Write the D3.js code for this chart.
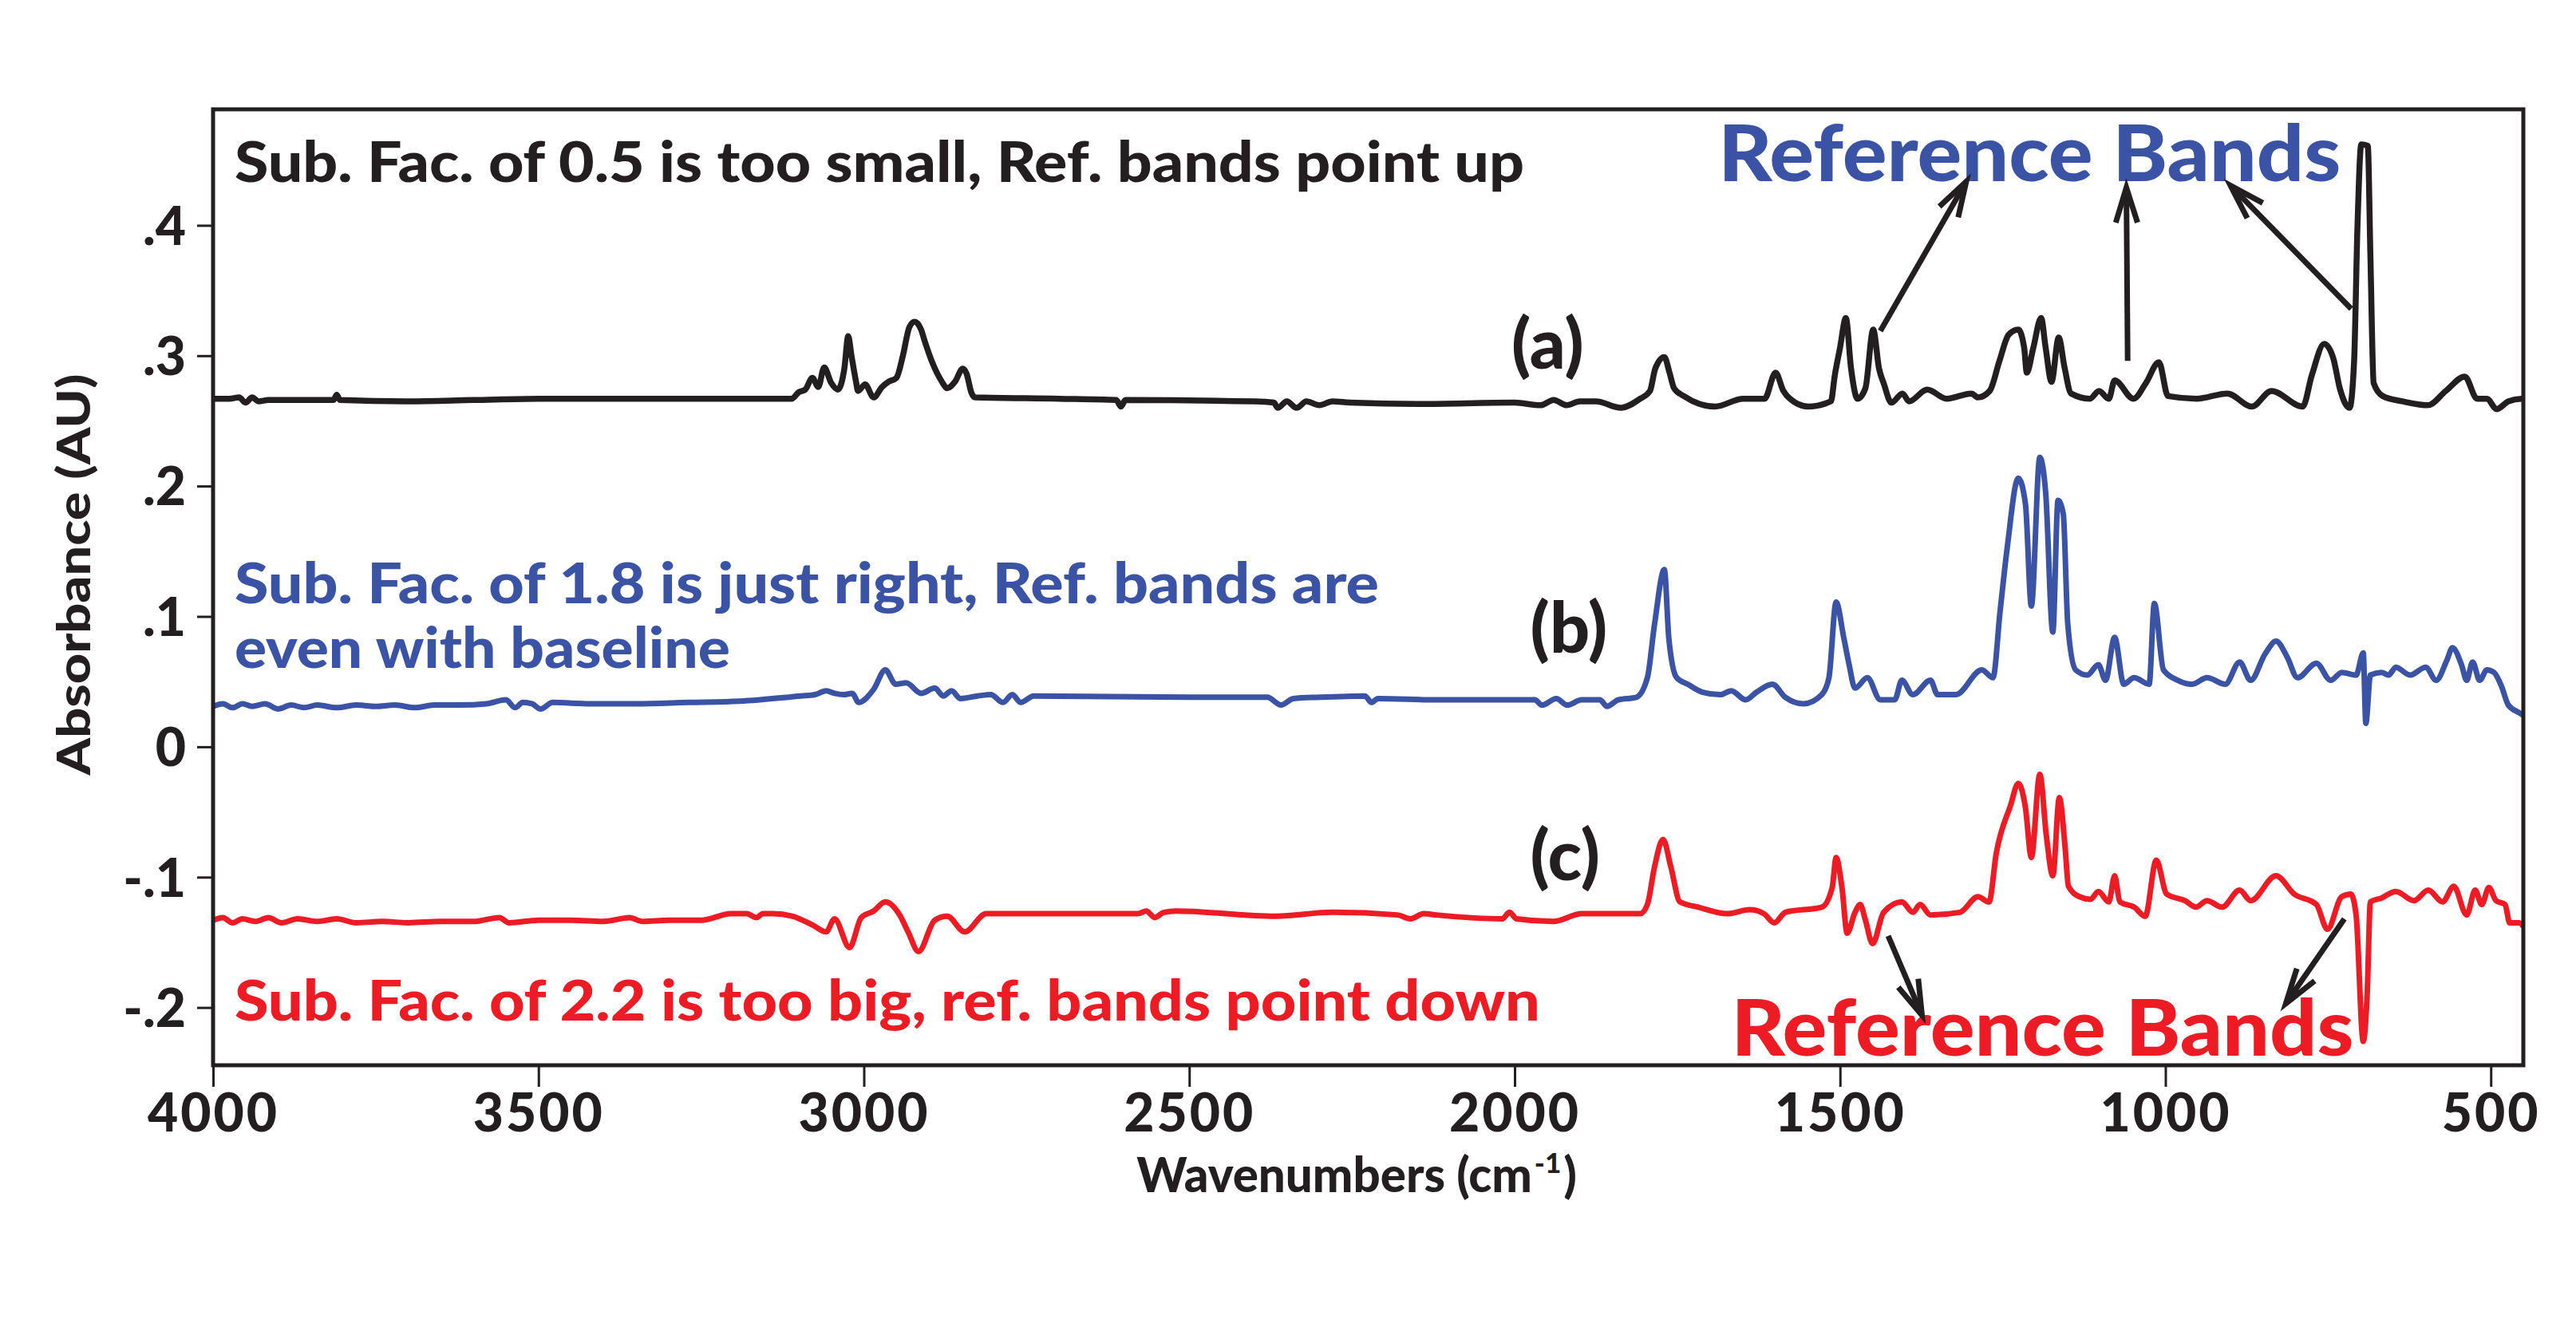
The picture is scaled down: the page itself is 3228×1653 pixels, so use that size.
<!DOCTYPE html>
<html lang="en">
<head>
<meta charset="UTF-8">
<title>Subtraction factor spectra</title>
<script src="https://cdn.jsdelivr.net/npm/d3@7"></script>
<style>
  body { margin: 0; background: #fff; }
</style>
</head>
<body>
<svg></svg>
<script>
  const width = 3228, height = 1653

  const xTicks = [4000, 3500, 3000, 2500, 2000, 1500, 1000, 500]
  const yTicks = [-0.2, -0.1, 0, 0.1, 0.2, 0.3, 0.4]
  const yTickLabels = ['-.2', '-.1', '0', '.1', '.2', '.3', '.4']

  // [wavenumber, absorbance]
  const spectrumA = [[4000,0.267],[3975,0.267],[3960,0.268],[3950,0.264],[3940,0.268],[3930,0.265],[3915,0.266],[3900,0.266],[3850,0.266],[3815,0.266],[3810,0.270],[3805,0.266],[3700,0.265],[3600,0.266],[3500,0.267],[3300,0.267],[3111,0.267],[3100,0.272],[3090,0.274],[3079,0.283],[3070,0.276],[3061,0.291],[3050,0.279],[3040,0.274],[3030,0.290],[3024,0.315],[3019,0.300],[3012,0.280],[3009,0.273],[2998,0.278],[2985,0.268],[2972,0.276],[2962,0.280],[2950,0.283],[2940,0.300],[2930,0.322],[2922,0.326],[2912,0.320],[2907,0.312],[2895,0.295],[2880,0.280],[2872,0.275],[2860,0.280],[2848,0.290],[2842,0.286],[2835,0.272],[2829,0.268],[2700,0.267],[2612,0.266],[2605,0.261],[2598,0.266],[2400,0.265],[2370,0.264],[2364,0.260],[2350,0.265],[2335,0.260],[2320,0.265],[2300,0.262],[2280,0.265],[2253,0.264],[2150,0.263],[2000,0.264],[1960,0.262],[1940,0.266],[1920,0.262],[1900,0.265],[1875,0.265],[1837,0.260],[1807,0.267],[1792,0.273],[1784,0.290],[1770,0.299],[1762,0.287],[1755,0.275],[1740,0.269],[1692,0.261],[1649,0.267],[1616,0.267],[1599,0.287],[1587,0.273],[1577,0.267],[1549,0.261],[1514,0.265],[1508,0.285],[1500,0.306],[1491,0.329],[1483,0.290],[1473,0.267],[1461,0.275],[1449,0.320],[1440,0.290],[1433,0.279],[1421,0.264],[1404,0.271],[1394,0.265],[1366,0.274],[1336,0.267],[1298,0.271],[1288,0.268],[1270,0.273],[1255,0.296],[1241,0.316],[1226,0.320],[1217,0.306],[1213,0.287],[1203,0.306],[1191,0.329],[1184,0.306],[1175,0.280],[1164,0.314],[1155,0.291],[1145,0.271],[1116,0.267],[1102,0.273],[1087,0.267],[1078,0.281],[1049,0.267],[1030,0.279],[1010,0.295],[996,0.269],[952,0.267],[905,0.271],[867,0.261],[837,0.273],[789,0.261],[775,0.285],[756,0.309],[742,0.298],[732,0.275],[717,0.260],[710,0.296],[705,0.397],[699,0.462],[689,0.461],[685,0.377],[680,0.279],[666,0.269],[636,0.265],[597,0.262],[569,0.273],[540,0.284],[521,0.267],[506,0.267],[491,0.259],[473,0.265],[453,0.267],[450,0.267]]

  const spectrumB = [[4000,0.031],[3985,0.033],[3970,0.030],[3955,0.033],[3940,0.031],[3920,0.033],[3900,0.029],[3880,0.032],[3860,0.030],[3840,0.032],[3810,0.030],[3780,0.032],[3750,0.031],[3720,0.032],[3690,0.030],[3660,0.032],[3620,0.032],[3580,0.033],[3550,0.036],[3536,0.030],[3524,0.034],[3510,0.033],[3497,0.029],[3478,0.034],[3420,0.033],[3350,0.033],[3270,0.034],[3191,0.035],[3097,0.039],[3075,0.040],[3058,0.043],[3045,0.041],[3031,0.040],[3018,0.041],[3008,0.034],[2985,0.044],[2967,0.059],[2951,0.048],[2935,0.049],[2912,0.041],[2891,0.045],[2878,0.039],[2865,0.043],[2852,0.037],[2825,0.039],[2805,0.040],[2786,0.034],[2772,0.040],[2759,0.034],[2739,0.039],[2500,0.038],[2380,0.038],[2359,0.032],[2340,0.037],[2300,0.038],[2230,0.039],[2220,0.034],[2210,0.037],[2120,0.036],[1969,0.036],[1958,0.032],[1936,0.037],[1919,0.032],[1897,0.036],[1869,0.036],[1858,0.031],[1841,0.036],[1813,0.038],[1796,0.053],[1785,0.094],[1770,0.136],[1763,0.083],[1751,0.053],[1734,0.048],[1712,0.042],[1684,0.040],[1667,0.043],[1645,0.036],[1628,0.042],[1604,0.048],[1584,0.038],[1556,0.033],[1528,0.040],[1517,0.053],[1506,0.111],[1494,0.083],[1486,0.063],[1477,0.045],[1458,0.053],[1438,0.036],[1416,0.036],[1405,0.051],[1388,0.040],[1361,0.051],[1350,0.040],[1322,0.040],[1282,0.059],[1265,0.053],[1254,0.104],[1243,0.153],[1226,0.206],[1215,0.186],[1206,0.108],[1193,0.222],[1184,0.195],[1173,0.088],[1165,0.189],[1157,0.179],[1150,0.094],[1138,0.059],[1120,0.055],[1103,0.063],[1092,0.051],[1078,0.084],[1064,0.048],[1048,0.053],[1025,0.048],[1017,0.110],[1003,0.059],[981,0.051],[959,0.048],[936,0.053],[908,0.048],[886,0.065],[869,0.051],[847,0.071],[830,0.081],[813,0.069],[797,0.053],[768,0.064],[746,0.051],[729,0.057],[707,0.055],[696,0.072],[692,0.018],[685,0.055],[668,0.057],[657,0.055],[646,0.061],[624,0.055],[600,0.061],[584,0.051],[567,0.067],[559,0.076],[545,0.063],[537,0.051],[528,0.065],[517,0.051],[506,0.059],[495,0.057],[484,0.047],[473,0.032],[456,0.026],[450,0.024]]

  const spectrumC = [[4000,-0.133],[3985,-0.131],[3970,-0.135],[3955,-0.132],[3935,-0.134],[3915,-0.131],[3895,-0.135],[3870,-0.132],[3840,-0.134],[3810,-0.132],[3780,-0.135],[3740,-0.134],[3700,-0.135],[3650,-0.134],[3600,-0.134],[3560,-0.131],[3545,-0.135],[3500,-0.133],[3450,-0.133],[3400,-0.134],[3360,-0.131],[3340,-0.134],[3300,-0.133],[3250,-0.133],[3204,-0.128],[3180,-0.128],[3165,-0.131],[3155,-0.128],[3140,-0.128],[3109,-0.130],[3078,-0.137],[3058,-0.142],[3045,-0.132],[3022,-0.154],[3004,-0.131],[2985,-0.126],[2967,-0.119],[2945,-0.129],[2932,-0.142],[2916,-0.157],[2891,-0.133],[2872,-0.130],[2845,-0.142],[2812,-0.128],[2579,-0.128],[2566,-0.126],[2553,-0.131],[2539,-0.127],[2520,-0.126],[2367,-0.130],[2280,-0.127],[2180,-0.129],[2160,-0.132],[2140,-0.128],[2120,-0.129],[2019,-0.132],[2008,-0.127],[1997,-0.132],[1941,-0.134],[1897,-0.128],[1807,-0.128],[1796,-0.121],[1785,-0.092],[1772,-0.071],[1760,-0.092],[1746,-0.119],[1718,-0.123],[1673,-0.128],[1639,-0.125],[1617,-0.128],[1601,-0.135],[1584,-0.127],[1528,-0.123],[1512,-0.108],[1506,-0.085],[1497,-0.108],[1489,-0.143],[1477,-0.127],[1469,-0.121],[1461,-0.133],[1450,-0.151],[1433,-0.127],[1405,-0.119],[1388,-0.127],[1377,-0.121],[1361,-0.129],[1316,-0.127],[1288,-0.115],[1271,-0.119],[1260,-0.082],[1238,-0.045],[1226,-0.028],[1215,-0.047],[1206,-0.085],[1193,-0.021],[1183,-0.068],[1173,-0.099],[1163,-0.039],[1154,-0.078],[1149,-0.107],[1132,-0.115],[1115,-0.117],[1103,-0.111],[1087,-0.119],[1078,-0.099],[1070,-0.119],[1048,-0.123],[1031,-0.130],[1014,-0.087],[998,-0.113],[970,-0.118],[953,-0.123],[936,-0.118],[913,-0.123],[886,-0.110],[869,-0.118],[830,-0.099],[802,-0.113],[768,-0.121],[751,-0.140],[729,-0.115],[715,-0.113],[707,-0.129],[696,-0.226],[690,-0.190],[685,-0.119],[668,-0.116],[646,-0.111],[618,-0.118],[596,-0.110],[574,-0.119],[557,-0.107],[537,-0.129],[524,-0.110],[514,-0.121],[503,-0.108],[492,-0.118],[478,-0.121],[471,-0.135],[456,-0.135],[450,-0.138]]

  const black = '#231f20', blue = '#3a53a4', red = '#ed1c24'
  const font = 'Lato, "Open Sans", sans-serif'

  const svg = d3.select('svg')
      .attr('width', width)
      .attr('height', height)
      .attr('viewBox', [0, 0, width, height])
      .style('background', '#fff')
      .style('display', 'block')

  const x = d3.scaleLinear()
      .domain([4000, 450])
      .range([267, 3162])

  const y = d3.scaleLinear()
      .domain([-0.2443, 0.489])
      .range([1335, 137])

  svg.append('clipPath').attr('id', 'plot')
    .append('rect')
      .attr('x', x.range()[0]).attr('y', y.range()[1])
      .attr('width', x.range()[1] - x.range()[0])
      .attr('height', y.range()[0] - y.range()[1])

  const line = d3.line()
      .x(d => x(d[0]))
      .y(d => y(d[1]))
      .curve(d3.curveMonotoneX)

  // spectra
  const spectra = [
    {data: spectrumA, color: black, w: 7.5},
    {data: spectrumB, color: blue, w: 7},
    {data: spectrumC, color: red, w: 7}
  ]
  svg.append('g').attr('clip-path', 'url(#plot)')
    .selectAll('path').data(spectra).join('path')
      .attr('fill', 'none')
      .attr('stroke', d => d.color)
      .attr('stroke-width', d => d.w)
      .attr('stroke-linejoin', 'round')
      .attr('d', d => line(d.data))

  // frame
  svg.append('rect')
      .attr('x', x.range()[0]).attr('y', y.range()[1])
      .attr('width', x.range()[1] - x.range()[0])
      .attr('height', y.range()[0] - y.range()[1])
      .attr('fill', 'none')
      .attr('stroke', black)
      .attr('stroke-width', 5)

  //X轴
  const gx = svg.append('g')
      .attr('transform', `translate(0,${y.range()[0]})`)
      .call(d3.axisBottom(x).tickValues(xTicks).tickSize(27).tickSizeOuter(0).tickFormat(d3.format('d')))
  gx.select('.domain').remove()
  gx.selectAll('line').attr('stroke', black).attr('stroke-width', 3)
  gx.selectAll('text')
      .attr('y', 83).attr('dy', 0)
      .attr('fill', black)
      .attr('letter-spacing', 3)
      .style('font', `900 66px ${font}`)

  //Y轴
  const gy = svg.append('g')
      .attr('transform', `translate(${x.range()[0]},0)`)
      .call(d3.axisLeft(y).tickValues(yTicks).tickSize(20).tickSizeOuter(0)
        .tickFormat((d, i) => yTickLabels[i]))
  gy.select('.domain').remove()
  gy.selectAll('line').attr('stroke', black).attr('stroke-width', 3)
  gy.selectAll('text')
      .attr('x', -34).attr('dy', '0.36em')
      .attr('fill', black)
      .style('font', `900 66px ${font}`)

  // axis titles: superscript kept inside the same text
  svg.append('text')
      .attr('x', 1700).attr('y', 1494)
      .attr('text-anchor', 'middle')
      .attr('fill', black)
      .style('font', `900 60px ${font}`)
      .html('Wavenumbers (cm<tspan dx="3" dy="-24" style="font-size:35px">-1</tspan><tspan dx="3" dy="24">)</tspan>')

  svg.append('text')
      .attr('transform', 'translate(113,720) rotate(-90)')
      .attr('text-anchor', 'middle')
      .attr('fill', black)
      .attr('textLength', 503)
      .attr('lengthAdjust', 'spacingAndGlyphs')
      .style('font', `900 58px ${font}`)
      .text('Absorbance (AU)')

  // annotations, anchored in data units
  const notes = [
    {t: 'Sub. Fac. of 0.5 is too small, Ref. bands point up', w: 3967, v: 0.4336, c: black, s: 70, len: 1616},
    {t: 'Sub. Fac. of 1.8 is just right, Ref. bands are', w: 3967, v: 0.110, c: blue, s: 70, len: 1434},
    {t: 'even with baseline', w: 3967, v: 0.0606, c: blue, s: 70, len: 621},
    {t: 'Sub. Fac. of 2.2 is too big, ref. bands point down', w: 3967, v: -0.210, c: red, s: 70, len: 1636},
    {t: 'Reference Bands', w: 1687, v: 0.434, c: blue, s: 98, len: 780},
    {t: 'Reference Bands', w: 1667, v: -0.237, c: red, s: 98, len: 780},
    {t: '(a)', w: 2005, v: 0.290, c: black, s: 88},
    {t: '(b)', w: 1976, v: 0.072, c: black, s: 88},
    {t: '(c)', w: 1976, v: -0.102, c: black, s: 88}
  ]
  svg.append('g').selectAll('text').data(notes).join('text')
      .attr('x', d => x(d.w))
      .attr('y', d => y(d.v))
      .attr('fill', d => d.c)
      .attr('textLength', d => d.len || null)
      .attr('lengthAdjust', 'spacingAndGlyphs')
      .style('font', d => `900 ${d.s}px ${font}`)
      .text(d => d.t)

  // arrows pointing at the reference bands
  const arrows = [
    [[1438, 0.319], [1306, 0.4336]],
    [[1058, 0.296], [1060, 0.429]],
    [[714.5, 0.336], [900, 0.4305]],
    [[1426, -0.145], [1374, -0.206]],
    [[725, -0.132], [815, -0.197]]
  ]
  const ga = svg.append('g')
      .attr('stroke', black)
      .attr('stroke-width', 7)
      .attr('fill', 'none')
  arrows.forEach(([a, b]) => {
    const x1 = x(a[0]), y1 = y(a[1]), x2 = x(b[0]), y2 = y(b[1])
    const ang = Math.atan2(y2 - y1, x2 - x1)
    const L = 46, spread = 0.3
    ga.append('line').attr('x1', x1).attr('y1', y1).attr('x2', x2).attr('y2', y2)
    const p = d3.path()
    p.moveTo(x2 - L * Math.cos(ang - spread), y2 - L * Math.sin(ang - spread))
    p.lineTo(x2, y2)
    p.lineTo(x2 - L * Math.cos(ang + spread), y2 - L * Math.sin(ang + spread))
    ga.append('path').attr('stroke-linejoin', 'miter').attr('d', p.toString())
  })
</script>
</body>
</html>
